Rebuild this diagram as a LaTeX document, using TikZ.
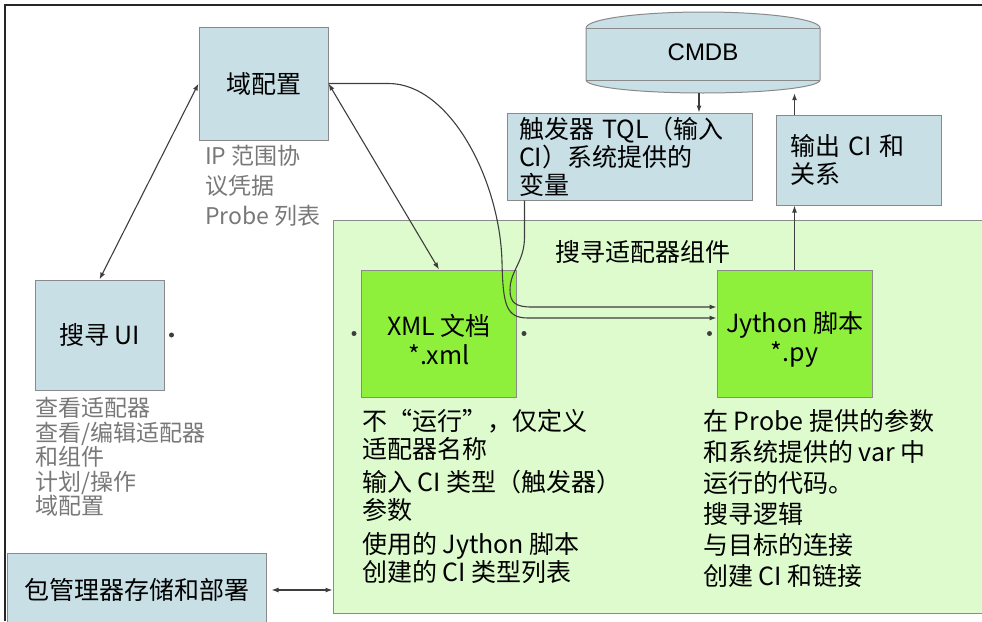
\documentclass[tikz,border=0pt]{standalone}
\usepackage{fontspec}
\setmainfont{Noto Sans CJK SC}
\newfontfamily\dbfont{Liberation Sans}
\usetikzlibrary{arrows.meta,positioning,calc}
\definecolor{boxblue}{RGB}{199,223,229}
\definecolor{compgreen}{RGB}{221,251,204}
\definecolor{filegreen}{RGB}{143,240,60}
\definecolor{edgegray}{RGB}{138,138,138}
\definecolor{linkgray}{RGB}{62,62,62}
\definecolor{notegray}{RGB}{120,120,120}

\tikzset{
  bluebox/.style={draw=edgegray, fill=boxblue, line width=1pt, font=\fontsize{25}{28}\selectfont},
  filebox/.style={draw=edgegray, fill=filegreen, line width=1pt, minimum width=155, minimum height=127},
  filetext/.style={align=center, yshift=-6pt, font=\fontsize{25}{29}\selectfont},
  note/.style={anchor=north west, inner sep=0pt, align=left, text=notegray},
  link/.style={draw=linkgray, line width=1.1pt},
  arr/.style={link, -{Latex[length=7pt,width=5pt]}},
  dblarr/.style={link, {Latex[length=7pt,width=5pt]}-{Latex[length=7pt,width=5pt]}},
}

\begin{document}
\begin{tikzpicture}[x=1pt,y=-1pt]
\useasboundingbox (0,0) rectangle (982,621);
\clip (0,0) rectangle (982,621);
% frame
\draw[line width=2.5pt, black!85] (5,621) -- (5,5) -- (982,5);

% adapter component area
\node[draw=edgegray, fill=compgreen, line width=1pt, minimum width=660, minimum height=393] (comp) at (663,416.5) {};
\node[anchor=west, font=\fontsize{25}{28}\selectfont] (complabel) at (552,252) {搜寻适配器组件};
\node[filebox, label={[filetext]center:XML 文档\\*.xml}] (xml) at (439,333.5) {};
\node[filebox, label={[filetext]center:Jython 脚本\\*.py}] (jy) at (794.5,333.5) {};

% blue boxes
\node[bluebox, minimum width=129, minimum height=113] (dom) at (263.5,83.5) {域配置};
\node[bluebox, minimum width=129, minimum height=110] (ui) at (99.5,335) {搜寻 UI};
\node[bluebox, minimum width=259, minimum height=74] (pkg) at (136.5,590) {包管理器存储和部署};
\node[bluebox, minimum width=245, minimum height=87, text width=221, inner xsep=12, align=left] (trig) at (629.5,156.5) {触发器 TQL（输入\\CI）系统提供的\\变量};
\node[bluebox, minimum width=165, minimum height=90, text width=137, inner xsep=14, align=left] (out) at (858.5,160) {输出 CI 和\\关系};

% CMDB drum
\draw[draw=edgegray, fill=boxblue, line width=1pt] (586,28) arc[start angle=180, end angle=360, x radius=117, y radius=16] -- (820,80) arc[start angle=0, end angle=180, x radius=117, y radius=13] -- cycle;
\draw[draw=edgegray, line width=1pt] (586,28) -- (820,28) (586,80) -- (820,80);
\node[minimum width=234, minimum height=81, font=\dbfont\fontsize{24}{28}\selectfont] (cmdb) at (703,52.5) {CMDB};

% notes
\node[note, font=\fontsize{23}{30}\selectfont] (domnote) at (205,145) {IP 范围协\\议凭据\\Probe 列表};
\node[note, font=\fontsize{23}{24.5}\selectfont] (uinote) at (35,397) {查看适配器\\查看/编辑适配器\\和组件\\计划/操作\\域配置};
\node[note, text=black, font=\fontsize{25}{28}\selectfont] (xmlnote) at (362,409) {不“运行”，仅定义\\适配器名称\\[5pt]输入 CI 类型（触发器）\\参数\\[6pt]使用的 Jython 脚本\\创建的 CI 类型列表};
\node[note, text=black, font=\fontsize{25}{31}\selectfont] (jynote) at (703,409) {在 Probe 提供的参数\\和系统提供的 var 中\\运行的代码。\\搜寻逻辑\\与目标的连接\\创建 CI 和链接};

% connectors
\draw[dblarr] (dom.west) -- (ui.north);
\draw[dblarr] (dom.east) -- (xml.north);
\draw[arr] (dom.east) -- ++(60,0) .. controls (450,83.5) and (500,180) .. (502,262) .. controls (503,305) and (506,318) .. (528,318) -- ([yshift=15.5pt]jy.west);
\draw[arr] ([xshift=18pt]trig.south west) -- ++(0,35) .. controls (525,262) and (510,270) .. (510,290) .. controls (510,303) and (516,307) .. (532,307) -- ([yshift=26.5pt]jy.west);
\draw[arr] ([xshift=-4pt]cmdb.south) -- ([xshift=-4pt]cmdb.south |- trig.north);
\draw[arr] (jy.north |- out.north) -- (jy.north |- cmdb.south);
\draw[arr] (jy.north) -- (jy.north |- out.south);
\draw[dblarr] ([xshift=5pt]pkg.east) -- (pkg.east -| comp.west);

% loose connector ends
\foreach \p in {ui.east, xml.east} \fill[linkgray] ([xshift=7pt]\p) circle (2.5);
\foreach \p in {xml.west, jy.west} \fill[linkgray] ([xshift=-7pt]\p) circle (2.5);
\end{tikzpicture}
\end{document}
